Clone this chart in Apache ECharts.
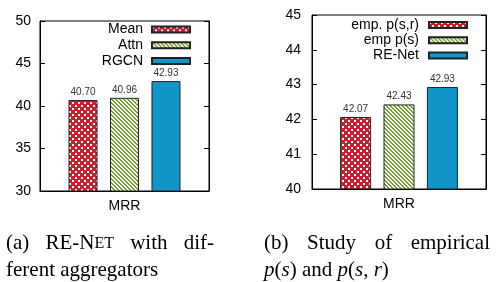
<!DOCTYPE html>
<html style="height: 100%">
   <head>
       <meta charset="utf-8">
   </head>
   <body style="height: 100%; margin: 0; background: #fff">
       <div id="container" style="width: 504px; height: 282px"></div>
       <script type="text/javascript" src="https://cdn.jsdelivr.net/npm/echarts@6/dist/echarts.min.js"></script>
       <script type="text/javascript">
// data
var categories = ['MRR'];
var namesA = ['Mean', 'Attn', 'RGCN'];
var valuesA = [40.70, 40.96, 42.93];
var namesB = ['emp. p(s,r)', 'emp p(s)', 'RE-Net'];
var valuesB = [42.07, 42.43, 42.93];

function checkerPattern() {
    var c = document.createElement('canvas');
    c.width = 6; c.height = 6;
    var ctx = c.getContext('2d');
    ctx.fillStyle = '#c8202f';
    ctx.fillRect(0, 0, 6, 6);
    ctx.fillStyle = '#ffffff';
    ctx.fillRect(0, 0, 2, 2);
    ctx.fillRect(3, 3, 2, 2);
    return { image: c, repeat: 'repeat' };
}
function stripePattern() {
    var c = document.createElement('canvas');
    c.width = 4; c.height = 4;
    var ctx = c.getContext('2d');
    ctx.fillStyle = '#ffffff';
    ctx.fillRect(0, 0, 4, 4);
    ctx.fillStyle = '#72a02c';
    for (var y = 0; y < 4; y++) {
        for (var x = 0; x < 4; x++) {
            var d = ((x - y) % 4 + 4) % 4;
            if (d === 0 || d === 1) ctx.fillRect(x, y, 1, 1);
        }
    }
    return { image: c, repeat: 'repeat' };
}
var fills = [checkerPattern(), stripePattern(), '#1295c9'];

// justified first caption line: spread the word gaps so the line fills the width
var serif = '21px "Liberation Serif"';
var measurer = document.createElement('canvas').getContext('2d');
function textW(s, font) { measurer.font = font || serif; return measurer.measureText(s).width; }
function gapFor(wordsWidth, nGaps, lineWidth) { return (lineWidth - wordsWidth) / nGaps; }

var capA1 = textW('(a)') + textW('RE-N') + textW('ET', '16px "Liberation Serif"') + textW('with') + textW('dif-');
var capB1 = textW('(b)') + textW('Study') + textW('of') + textW('empirical');
var gapA = gapFor(capA1, 3, 208);
var gapB = gapFor(capB1, 3, 226);

var dom = document.getElementById("container");
var myChart = echarts.init(dom);

function yAxis(grid, min, max, step, pos, margin) {
    return {
        type: 'value', gridIndex: grid, min: min, max: max, interval: step,
        position: pos,
        axisLine: { show: true, lineStyle: { color: '#000', width: 1 } },
        axisTick: { show: true, inside: true, length: 5, lineStyle: { color: '#000' } },
        axisLabel: { show: pos === 'left', color: '#000', fontSize: 14, margin: margin },
        splitLine: { show: false }
    };
}
function xAxis(grid) {
    return {
        type: 'category', gridIndex: grid, data: categories,
        axisLine: { show: true, lineStyle: { color: '#000', width: 1 } },
        axisTick: { show: false },
        axisLabel: { color: '#000', fontSize: 14, margin: 8 }
    };
}
function bars(names, values, xi, yi, width, gap) {
    return names.map(function (n, i) {
        return {
            name: n, type: 'bar', xAxisIndex: xi, yAxisIndex: yi,
            data: [values[i]], barWidth: width, barGap: gap,
            itemStyle: { color: fills[i], borderColor: '#222', borderWidth: 1 },
            label: {
                show: true, position: 'top', distance: 3, fontSize: 10, color: '#333',
                formatter: function (p) { return p.value.toFixed(2); }
            }
        };
    });
}
function legends(names, right, tops, gap) {
    return names.map(function (n, i) {
        return {
            data: [n], right: right, top: tops[i], orient: 'vertical', align: 'right',
            padding: 0, itemWidth: 38, itemHeight: 6, selectedMode: false, icon: 'rect',
            textStyle: { fontSize: 14, lineHeight: 14, color: '#000', padding: [0, gap, 0, 0] }
        };
    });
}

option = {
    animation: false,
    textStyle: { fontFamily: 'Liberation Sans' },
    grid: [
        { left: 40, top: 21, width: 169, height: 170, show: true, borderColor: '#000', borderWidth: 1 },
        { left: 312, top: 15, width: 174, height: 174, show: true, borderColor: '#000', borderWidth: 1 }
    ],
    xAxis: [xAxis(0), xAxis(1)],
    yAxis: [
        yAxis(0, 30, 50, 5, 'left', 9),
        yAxis(0, 30, 50, 5, 'right', 9),
        yAxis(1, 40, 45, 1, 'left', 11),
        yAxis(1, 40, 45, 1, 'right', 11)
    ],
    legend: legends(namesA, 313, [22.5, 38.3, 54], 4)
        .concat(legends(namesB, 36, [18, 33.3, 48.5], 5)),
    title: [
        {
            text: '(a){g| }RE-N{sc|ET}{g| }with{g| }dif-\nferent aggregators',
            left: 6, top: 230, padding: 0,
            textStyle: {
                fontFamily: 'Liberation Serif', fontSize: 21, lineHeight: 27, fontWeight: 'normal', color: '#000',
                rich: {
                    sc: { fontFamily: 'Liberation Serif', fontSize: 16, color: '#000' },
                    g: { width: gapA }
                }
            }
        },
        {
            text: '(b){g| }Study{g| }of{g| }empirical\n{i|p}({i|s}) and {i|p}({i|s}, {i|r})',
            left: 264, top: 230, padding: 0,
            textStyle: {
                fontFamily: 'Liberation Serif', fontSize: 21, lineHeight: 27, fontWeight: 'normal', color: '#000',
                rich: {
                    i: { fontFamily: 'Liberation Serif', fontSize: 21, fontStyle: 'italic', color: '#000' },
                    g: { width: gapB }
                }
            }
        }
    ],
    series: bars(namesA, valuesA, 0, 0, 29, '43%')
        .concat(bars(namesB, valuesB, 1, 2, 31, '40%'))
};

if (option && typeof option === "object") {
    myChart.setOption(option, true);
}
       </script>
   </body>
</html>
